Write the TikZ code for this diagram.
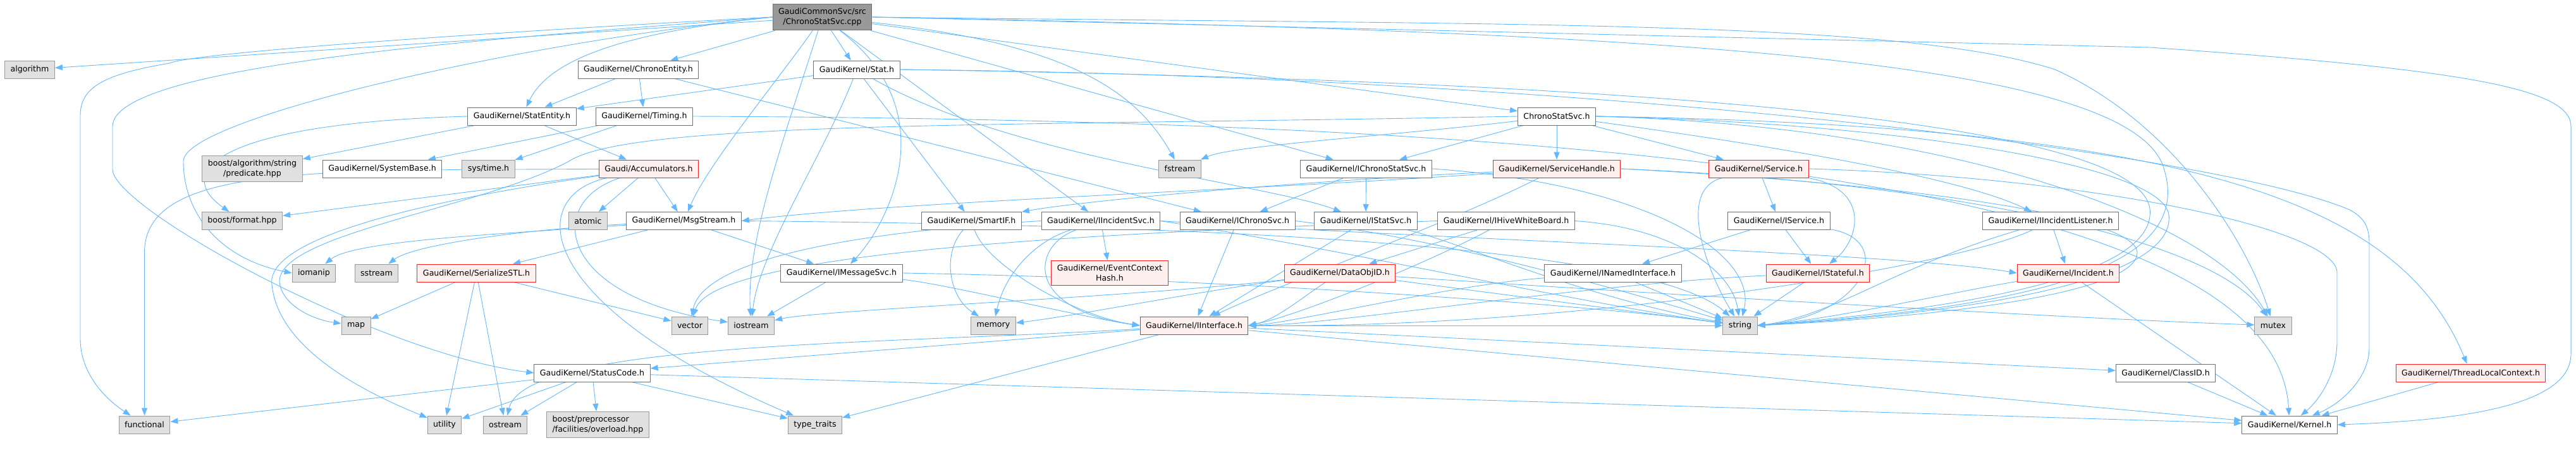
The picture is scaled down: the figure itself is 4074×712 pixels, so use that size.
\documentclass[tikz,border=0pt]{standalone}
\usepackage{fontspec}
\setmainfont{DejaVu Sans}
\usepackage{tikz}
\usepackage{xcolor}
\usetikzlibrary{arrows.meta,backgrounds}

\definecolor{edgeblue}{HTML}{63B8FF}
\definecolor{extfill}{HTML}{E0E0E0}
\definecolor{extline}{HTML}{999999}
\definecolor{hdrline}{HTML}{707070}
\definecolor{missline}{HTML}{FF2020}
\definecolor{missfill}{HTML}{FFF0F0}
\definecolor{srcfill}{HTML}{999999}

\begin{document}
\begin{tikzpicture}[
          x=1pt, y=-1pt,
          box/.style={rectangle, line width=1pt, inner xsep=9pt, inner ysep=6.5pt,
                      minimum height=28pt, align=center,
                      font=\fontsize{12.6}{16.5}\selectfont},
          hdr/.style={box, draw=hdrline, fill=white},
          ext/.style={box, draw=extline, fill=extfill},
          miss/.style={box, draw=missline, fill=missfill},
          src/.style={box, draw=hdrline, fill=srcfill},
          arr/.style={-{Triangle[length=12pt,width=9pt]}, edgeblue, line width=0.9pt}
      ]
        \useasboundingbox (0,0) rectangle (4074,712);

        \node[src] (cpp) at (1300.5,27) {GaudiCommonSvc/src\\/ChronoStatSvc.cpp};
        \node[ext] (algorithm) at (47,110) {algorithm};
        \node[hdr] (chronoentity) at (1009.5,110) {GaudiKernel/ChronoEntity.h};
        \node[hdr] (stat) at (1355,110) {GaudiKernel/Stat.h};
        \node[hdr] (statentity) at (825.5,184) {GaudiKernel/StatEntity.h};
        \node[hdr] (timing) at (1019,184) {GaudiKernel/Timing.h};
        \node[hdr] (chronosvch) at (2462,184) {ChronoStatSvc.h};
        \node[ext] (predicate) at (399,267) {boost/algorithm/string\\/predicate.hpp};
        \node[hdr] (systembase) at (604.5,267) {GaudiKernel/SystemBase.h};
        \node[ext] (systime) at (772.5,267) {sys/time.h};
        \node[miss] (accumulators) at (1026,267) {Gaudi/Accumulators.h};
        \node[ext] (fstream) at (1866,267) {fstream};
        \node[hdr] (ichronostatsvc) at (2160.5,267) {GaudiKernel/IChronoStatSvc.h};
        \node[miss] (servicehandle) at (2462,267) {GaudiKernel/ServiceHandle.h};
        \node[miss] (service) at (2781.5,267) {GaudiKernel/Service.h};
        \node[ext] (format) at (383,349.5) {boost/format.hpp};
        \node[ext] (atomic) at (930,349.5) {atomic};
        \node[hdr] (msgstream) at (1081.5,349.5) {GaudiKernel/MsgStream.h};
        \node[hdr] (smartif) at (1536.5,349.5) {GaudiKernel/SmartIF.h};
        \node[hdr] (iincidentsvc) at (1741,349.5) {GaudiKernel/IIncidentSvc.h};
        \node[hdr] (ichronosvc) at (1957,349.5) {GaudiKernel/IChronoSvc.h};
        \node[hdr] (istatsvc) at (2160,349.5) {GaudiKernel/IStatSvc.h};
        \node[hdr] (ihivewb) at (2382,349.5) {GaudiKernel/IHiveWhiteBoard.h};
        \node[hdr] (iservice) at (2813.5,349.5) {GaudiKernel/IService.h};
        \node[hdr] (ilistener) at (3243,349.5) {GaudiKernel/IIncidentListener.h};
        \node[ext] (iomanip) at (496.5,432) {iomanip};
        \node[ext] (sstream) at (595.5,432) {sstream};
        \node[miss] (serializestl) at (753.5,432) {GaudiKernel/SerializeSTL.h};
        \node[hdr] (imessagesvc) at (1331,432) {GaudiKernel/IMessageSvc.h};
        \node[miss] (ctxhash) at (1755,432) {GaudiKernel/EventContext\\Hash.h};
        \node[miss] (dataobjid) at (2119,432) {GaudiKernel/DataObjID.h};
        \node[hdr] (inamedif) at (2551,432) {GaudiKernel/INamedInterface.h};
        \node[miss] (istateful) at (2875,432) {GaudiKernel/IStateful.h};
        \node[miss] (incident) at (3271,432) {GaudiKernel/Incident.h};
        \node[ext] (map) at (563,515) {map};
        \node[ext] (vector) at (1091,515) {vector};
        \node[ext] (iostream) at (1188,515) {iostream};
        \node[ext] (memory) at (1571,515) {memory};
        \node[miss] (iinterface) at (1888.5,515) {GaudiKernel/IInterface.h};
        \node[ext] (string) at (2752,515) {string};
        \node[ext] (mutex) at (3595,515) {mutex};
        \node[hdr] (statuscode) at (936.5,590) {GaudiKernel/StatusCode.h};
        \node[hdr] (classid) at (3425,590) {GaudiKernel/ClassID.h};
        \node[miss] (threadlocal) at (3907.5,590) {GaudiKernel/ThreadLocalContext.h};
        \node[ext] (functional) at (228.5,672) {functional};
        \node[ext] (utility) at (703,672) {utility};
        \node[ext] (ostream) at (799,672) {ostream};
        \node[ext, align=left] (overload) at (945.5,672) {boost/preprocessor\\/facilities/overload.hpp};
        \node[ext] (typetraits) at (1289,672) {type\_traits};
        \node[hdr] (kernel) at (3621,672) {GaudiKernel/Kernel.h};

        \begin{pgfonlayer}{background}
        % ChronoStatSvc.cpp
        \draw[arr] (cpp) -- (algorithm);
        \draw[arr] (cpp.west) .. controls (700,55) and (300,85) .. (268,100) .. controls (160,118) and (127,140) .. (127,183) -- (127,536) .. controls (127,590) and (165,630) .. (functional);
        \draw[arr] (cpp.west) .. controls (800,60) and (178,100) .. (178,200) -- (178,268) .. controls (178,330) and (600,560) .. (statuscode.west);
        \draw[arr] (cpp.west) .. controls (800,70) and (290,190) .. (290,255) .. controls (290,340) and (350,410) .. (iomanip.west);
        \draw[arr] (cpp) -- (chronoentity);
        \draw[arr] (cpp.west) .. controls (1000,50) and (870,90) .. (statentity);
        \draw[arr] (cpp) -- (stat);
        \draw[arr] (cpp) .. controls (1220,140) and (1120,260) .. (msgstream);
        \draw[arr] (cpp) .. controls (1240,220) and (1180,380) .. (iostream);
        \draw[arr] (cpp) .. controls (1500,180) and (1400,360) .. (imessagesvc);
        \draw[arr] (cpp) -- (iincidentsvc);
        \draw[arr] (cpp) .. controls (1700,70) and (1800,150) .. (fstream);
        \draw[arr] (cpp) -- (ichronostatsvc);
        \draw[arr] (cpp) -- (chronosvch);
        \draw[arr] (cpp.east) .. controls (2400,40) and (3000,30) .. (3250,110) .. controls (3450,200) and (3560,400) .. (mutex);
        \draw[arr] (cpp.east) .. controls (2600,50) and (3350,90) .. (3420,260) .. controls (3470,400) and (3300,480) .. (string.east);
        \draw[arr] (cpp.east) -- (3400,75) .. controls (3900,110) and (4066,140) .. (4066,200) -- (4066,560) .. controls (4066,640) and (3900,665) .. (kernel.east);
        % ChronoEntity.h, Stat.h
        \draw[arr] (chronoentity) -- (statentity);
        \draw[arr] (chronoentity) -- (timing);
        \draw[arr] (chronoentity) -- (ichronosvc);
        \draw[arr] (stat) -- (statentity);
        \draw[arr] (stat) .. controls (1300,250) and (1200,400) .. (iostream);
        \draw[arr] (stat) -- (smartif);
        \draw[arr] (stat) .. controls (1600,250) and (2000,290) .. (istatsvc);
        \draw[arr] (stat.east) .. controls (2500,120) and (3500,240) .. (3716,332) .. controls (3740,345) and (3747,360) .. (3747,385) -- (3747,550) .. controls (3747,600) and (3700,640) .. (kernel);
        \draw[arr] (stat.east) .. controls (2700,130) and (3380,200) .. (3400,330) .. controls (3410,420) and (3200,480) .. (string.east);
        % StatEntity.h, Timing.h
        \draw[arr] (statentity.west) .. controls (350,195) and (270,270) .. (format);
        \draw[arr] (statentity) -- (predicate);
        \draw[arr] (statentity) -- (accumulators);
        \draw[arr] (timing) -- (systembase);
        \draw[arr] (timing) -- (systime);
        \draw[arr] (timing.east) .. controls (2600,190) and (3600,300) .. (kernel);
        % Accumulators.h
        \draw[arr] (accumulators) -- (atomic);
        \draw[arr] (accumulators) -- (msgstream);
        \draw[arr] (accumulators) .. controls (860,320) and (880,470) .. (iostream);
        \draw[arr] (accumulators) .. controls (830,310) and (840,480) .. (typetraits);
        \draw[arr] (accumulators) -- (format);
        \draw[arr] (accumulators) .. controls (500,270) and (228,260) .. (228.5,400) -- (functional);
        \draw[arr] (accumulators) .. controls (650,320) and (420,380) .. (430,450) .. controls (440,560) and (600,630) .. (utility);
        % MsgStream.h, SerializeSTL.h, IMessageSvc.h
        \draw[arr] (msgstream) -- (imessagesvc);
        \draw[arr] (msgstream) -- (serializestl);
        \draw[arr] (msgstream) .. controls (800,370) and (560,380) .. (iomanip);
        \draw[arr] (msgstream) .. controls (800,365) and (650,390) .. (sstream);
        \draw[arr] (msgstream.east) .. controls (1800,355) and (2600,380) .. (string);
        \draw[arr] (serializestl) -- (map);
        \draw[arr] (serializestl) -- (vector);
        \draw[arr] (serializestl) -- (utility);
        \draw[arr] (serializestl) -- (ostream);
        \draw[arr] (imessagesvc) -- (iostream);
        \draw[arr] (imessagesvc) .. controls (1500,450) and (1700,500) .. (iinterface.west);
        \draw[arr] (imessagesvc.east) .. controls (1900,440) and (2500,480) .. (string);
        % SmartIF.h, IIncidentSvc.h, IChronoSvc.h
        \draw[arr] (smartif) .. controls (1490,400) and (1500,470) .. (memory);
        \draw[arr] (smartif) .. controls (1560,420) and (1700,500) .. (iinterface.west);
        \draw[arr] (iincidentsvc) -- (ctxhash);
        \draw[arr] (iincidentsvc) .. controls (1640,380) and (1590,430) .. (memory);
        \draw[arr] (iincidentsvc) .. controls (1630,390) and (1620,490) .. (iinterface.west);
        \draw[arr] (iincidentsvc.west) .. controls (1300,370) and (1110,420) .. (vector);
        \draw[arr] (iincidentsvc.east) .. controls (2300,380) and (3000,400) .. (incident.west);
        \draw[arr] (iincidentsvc.east) .. controls (2100,390) and (2500,480) .. (string);
        \draw[arr] (ichronosvc) -- (iinterface);
        \draw[arr] (ichronosvc.east) .. controls (2300,380) and (2600,470) .. (string);
        % IChronoStatSvc.h, IStatSvc.h, IHiveWhiteBoard.h, DataObjID.h
        \draw[arr] (ichronostatsvc) -- (ichronosvc);
        \draw[arr] (ichronostatsvc) -- (istatsvc);
        \draw[arr] (ichronostatsvc.east) .. controls (2600,290) and (2780,400) .. (string);
        \draw[arr] (istatsvc) -- (iinterface);
        \draw[arr] (istatsvc) .. controls (2300,380) and (2500,470) .. (string);
        \draw[arr] (ihivewb) -- (dataobjid);
        \draw[arr] (ihivewb) .. controls (2250,420) and (2050,500) .. (iinterface.east);
        \draw[arr] (ihivewb.west) .. controls (1700,370) and (1130,400) .. (vector);
        \draw[arr] (ihivewb.east) .. controls (2650,360) and (2740,430) .. (string);
        \draw[arr] (dataobjid) .. controls (1800,470) and (1300,490) .. (iostream);
        \draw[arr] (dataobjid) .. controls (1900,460) and (1700,500) .. (memory);
        \draw[arr] (dataobjid) -- (string);
        \draw[arr] (dataobjid) .. controls (2060,470) and (2020,505) .. (iinterface.east);
        \draw[arr] (dataobjid) .. controls (2700,470) and (3300,505) .. (mutex);
        % ChronoStatSvc.h
        \draw[arr] (chronosvch) -- (ichronostatsvc);
        \draw[arr] (chronosvch) -- (servicehandle);
        \draw[arr] (chronosvch) -- (service);
        \draw[arr] (chronosvch) .. controls (2200,215) and (1950,230) .. (fstream);
        \draw[arr] (chronosvch) .. controls (2800,230) and (3100,280) .. (ilistener);
        \draw[arr] (chronosvch.west) .. controls (1600,200) and (1000,190) .. (900,255) .. controls (760,330) and (440,370) .. (442,446) .. controls (445,480) and (490,505) .. (map);
        \draw[arr] (chronosvch.east) .. controls (3000,195) and (3420,260) .. (3430,340) .. controls (3440,430) and (3200,490) .. (string.east);
        \draw[arr] (chronosvch.east) .. controls (3100,200) and (3500,350) .. (mutex);
        \draw[arr] (chronosvch.east) .. controls (3500,200) and (3800,330) .. (threadlocal);
        % ServiceHandle.h, Service.h, IService.h
        \draw[arr] (servicehandle) .. controls (2000,290) and (1700,320) .. (smartif);
        \draw[arr] (servicehandle) .. controls (2000,300) and (1400,320) .. (msgstream.east);
        \draw[arr] (servicehandle.east) .. controls (3100,290) and (3500,380) .. (mutex);
        \draw[arr] (servicehandle.east) .. controls (3000,290) and (3380,340) .. (3380,400) .. controls (3380,460) and (3100,500) .. (string.east);
        \draw[arr] (servicehandle) .. controls (2300,350) and (2000,460) .. (iinterface);
        \draw[arr] (service) -- (iservice);
        \draw[arr] (service) .. controls (2960,300) and (2940,380) .. (istateful);
        \draw[arr] (service) .. controls (2650,300) and (2700,430) .. (string);
        \draw[arr] (service.east) .. controls (3300,280) and (3690,360) .. (3696,430) -- (3696,540) .. controls (3696,600) and (3660,640) .. (kernel);
        \draw[arr] (iservice) -- (istateful);
        \draw[arr] (iservice) -- (inamedif);
        \draw[arr] (iservice) .. controls (3000,380) and (2950,500) .. (string.east);
        % INamedInterface.h, IStateful.h, IIncidentListener.h, Incident.h
        \draw[arr] (inamedif) -- (string);
        \draw[arr] (inamedif) .. controls (2300,450) and (2050,510) .. (iinterface.east);
        \draw[arr] (istateful) -- (string);
        \draw[arr] (istateful) .. controls (2500,450) and (2100,515) .. (iinterface.east);
        \draw[arr] (ilistener) -- (incident);
        \draw[arr] (ilistener) .. controls (3000,420) and (2900,500) .. (string.east);
        \draw[arr] (ilistener) .. controls (3100,420) and (2500,520) .. (iinterface.east);
        \draw[arr] (incident) .. controls (3100,460) and (2900,505) .. (string.east);
        \draw[arr] (incident) -- (kernel);
        % IInterface.h, StatusCode.h
        \draw[arr] (iinterface) -- (statuscode);
        \draw[arr] (iinterface) .. controls (1400,545) and (830,540) .. (ostream);
        \draw[arr] (iinterface) -- (typetraits);
        \draw[arr] (iinterface) -- (classid);
        \draw[arr] (iinterface) -- (kernel);
        \draw[arr] (iinterface) -- (string);
        \draw[arr] (statuscode) -- (utility);
        \draw[arr] (statuscode) -- (ostream);
        \draw[arr] (statuscode) -- (overload);
        \draw[arr] (statuscode) -- (typetraits);
        \draw[arr] (statuscode) -- (functional);
        \draw[arr] (statuscode) -- (kernel);
        \draw[arr] (classid) -- (kernel);
        \draw[arr] (threadlocal) -- (kernel);
        \end{pgfonlayer}
      \end{tikzpicture}
\end{document}
